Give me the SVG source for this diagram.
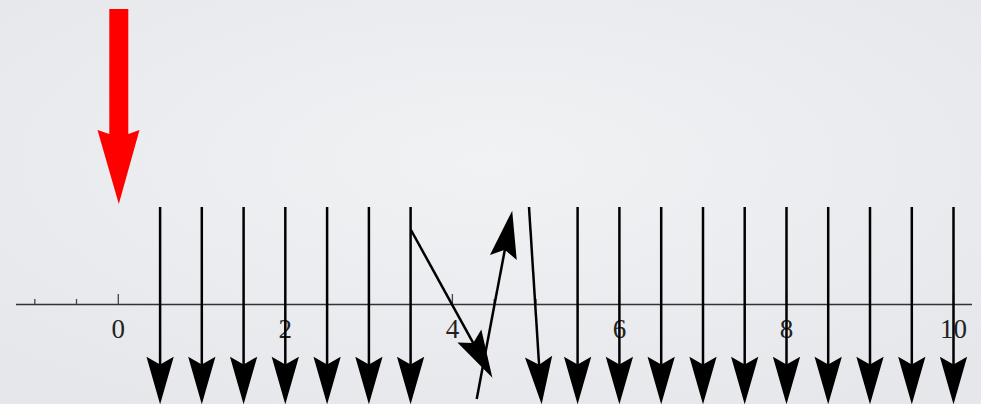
<svg xmlns="http://www.w3.org/2000/svg" width="981" height="404" viewBox="0 0 981 404">
<defs>
<radialGradient id="bg" cx="50%" cy="40%" r="70%">
<stop offset="0" stop-color="#f1f2f4"/>
<stop offset="1" stop-color="#e6e7eb"/>
</radialGradient>
<marker id="ah" markerUnits="userSpaceOnUse" markerWidth="50" markerHeight="30" viewBox="0 -13 44 26" refX="32" refY="0" orient="auto" overflow="visible">
<path d="M0,-12 L42,0 L0,12 L7,0 Z" fill="#000"/>
</marker>
<style>
.ar{stroke:#000;stroke-width:2.5;fill:none;marker-end:url(#ah)}
.ax{stroke:#333;stroke-width:1.3;fill:none}
.tk{stroke:#444;stroke-width:1.3}
.lb{font-family:"Liberation Serif","Times New Roman",serif;font-size:27px;fill:#222;text-anchor:middle}
</style>
</defs>
<rect width="981" height="404" fill="url(#bg)"/>
<g id="axis">
<line class="ax" x1="16" y1="304.5" x2="972" y2="304.5"/>
<line class="tk" x1="34.8" y1="304" x2="34.8" y2="299"/>
<line class="tk" x1="76.5" y1="304" x2="76.5" y2="299"/>
<line class="tk" x1="118.3" y1="304" x2="118.3" y2="294"/>
<line class="tk" x1="285.3" y1="304" x2="285.3" y2="294"/>
<line class="tk" x1="452.4" y1="304" x2="452.4" y2="294"/>
<line class="tk" x1="494.2" y1="304" x2="494.2" y2="299"/>
<line class="tk" x1="536" y1="304" x2="536" y2="299"/>
<line class="tk" x1="619.4" y1="304" x2="619.4" y2="294"/>
<line class="tk" x1="786.5" y1="304" x2="786.5" y2="294"/>
<line class="tk" x1="953.5" y1="304" x2="953.5" y2="294"/>
</g>
<g id="labels">
<text class="lb" x="118.3" y="337.5">0</text>
<text class="lb" x="285.3" y="337.5">2</text>
<text class="lb" x="452.4" y="337.5">4</text>
<text class="lb" x="619.4" y="337.5">6</text>
<text class="lb" x="786.5" y="337.5">8</text>
<text class="lb" x="953.5" y="337.5">10</text>
</g>
<g id="red-arrow">
<path d="M109.3,9 L128.3,9 L128.3,134 L139.5,130 L118.8,204 L97.5,130 L109.3,134 Z" fill="#ff0000"/>
</g>
<g id="connectors">
<line class="ar" x1="160.1" y1="207" x2="160.1" y2="393"/>
<line class="ar" x1="201.8" y1="207" x2="201.8" y2="393"/>
<line class="ar" x1="243.6" y1="207" x2="243.6" y2="393"/>
<line class="ar" x1="285.3" y1="207" x2="285.3" y2="393"/>
<line class="ar" x1="327.1" y1="207" x2="327.1" y2="393"/>
<line class="ar" x1="368.9" y1="207" x2="368.9" y2="393"/>
<line class="ar" x1="410.6" y1="207" x2="410.6" y2="393"/>
<line class="ar" x1="411" y1="230" x2="486.9" y2="367.9"/>
<line class="ar" x1="476.7" y1="399" x2="510.1" y2="221.8"/>
<line class="ar" x1="529" y1="207" x2="540.9" y2="393"/>
<line class="ar" x1="577.6" y1="207" x2="577.6" y2="393"/>
<line class="ar" x1="619.4" y1="207" x2="619.4" y2="393"/>
<line class="ar" x1="661.2" y1="207" x2="661.2" y2="393"/>
<line class="ar" x1="703" y1="207" x2="703" y2="393"/>
<line class="ar" x1="744.7" y1="207" x2="744.7" y2="393"/>
<line class="ar" x1="786.5" y1="207" x2="786.5" y2="393"/>
<line class="ar" x1="828.2" y1="207" x2="828.2" y2="393"/>
<line class="ar" x1="870" y1="207" x2="870" y2="393"/>
<line class="ar" x1="911.8" y1="207" x2="911.8" y2="393"/>
<line class="ar" x1="953.5" y1="207" x2="953.5" y2="393"/>
</g>
</svg>
